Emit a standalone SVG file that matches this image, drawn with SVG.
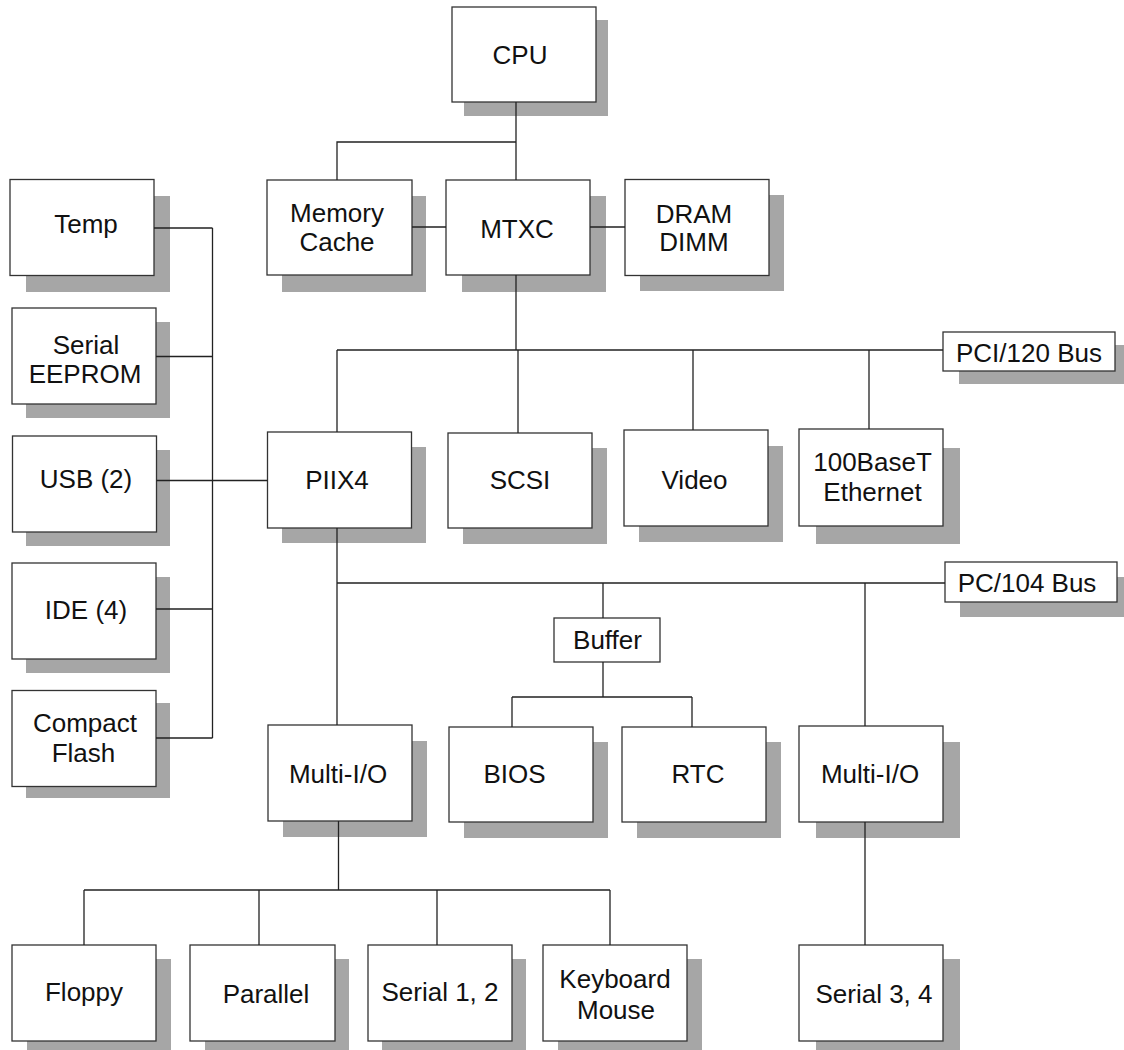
<svg xmlns="http://www.w3.org/2000/svg" width="1124" height="1050" viewBox="0 0 1124 1050">
<style>
.sh{fill:#a6a6a6;stroke:none}
.box{fill:#fff;stroke:#333;stroke-width:1.3}
.t{font-family:"Liberation Sans",Arial,sans-serif;font-size:26px;fill:#111;text-anchor:middle}
.w{fill:none;stroke:#222;stroke-width:1.3}
</style>
<rect width="1124" height="1050" fill="#fff"/>
<g id="nodes">
<g id="cpu"><rect class="sh" x="464" y="20" width="144" height="96"/><rect class="box" x="452" y="7" width="144" height="95"/><text class="t" x="520" y="64">CPU</text></g>
<g id="memcache"><rect class="sh" x="282" y="196" width="144" height="96"/><rect class="box" x="267" y="180" width="145" height="95"/><text class="t" x="337" y="222">Memory</text><text class="t" x="337" y="251">Cache</text></g>
<g id="mtxc"><rect class="sh" x="462" y="196" width="144" height="96"/><rect class="box" x="446" y="180" width="144" height="95"/><text class="t" x="517" y="238">MTXC</text></g>
<g id="dram"><rect class="sh" x="640" y="195" width="144" height="96"/><rect class="box" x="625" y="179.5" width="144" height="96"/><text class="t" x="694" y="222.5">DRAM</text><text class="t" x="694" y="251">DIMM</text></g>
<g id="temp"><rect class="sh" x="26" y="196" width="144" height="96"/><rect class="box" x="10" y="179.5" width="144" height="96"/><text class="t" x="86" y="232.5">Temp</text></g>
<g id="eeprom"><rect class="sh" x="26" y="322" width="144" height="96"/><rect class="box" x="12" y="308" width="144" height="96"/><text class="t" x="86" y="354">Serial</text><text class="t" x="85" y="383">EEPROM</text></g>
<g id="usb"><rect class="sh" x="26" y="450" width="144" height="96"/><rect class="box" x="12.5" y="436" width="144" height="96"/><text class="t" x="86" y="488">USB (2)</text></g>
<g id="ide"><rect class="sh" x="26" y="577" width="144" height="96"/><rect class="box" x="12" y="563" width="144" height="96"/><text class="t" x="86" y="619">IDE (4)</text></g>
<g id="cf"><rect class="sh" x="26" y="703" width="144" height="95"/><rect class="box" x="12" y="690.5" width="144" height="96"/><text class="t" x="85" y="731.5">Compact</text><text class="t" x="83.5" y="761.5">Flash</text></g>
<g id="piix4"><rect class="sh" x="282" y="447" width="144" height="96"/><rect class="box" x="267.5" y="432" width="144" height="96"/><text class="t" x="337" y="489">PIIX4</text></g>
<g id="scsi"><rect class="sh" x="463" y="448" width="144" height="96"/><rect class="box" x="448" y="433" width="144" height="95"/><text class="t" x="520" y="489">SCSI</text></g>
<g id="video"><rect class="sh" x="639" y="446" width="144" height="96"/><rect class="box" x="624" y="430" width="144" height="96"/><text class="t" x="694.5" y="489">Video</text></g>
<g id="ethernet"><rect class="sh" x="816" y="448" width="144" height="96"/><rect class="box" x="799" y="429" width="144" height="97"/><text class="t" x="872.5" y="470.5">100BaseT</text><text class="t" x="872.5" y="501">Ethernet</text></g>
<g id="pcibus"><rect class="sh" x="959" y="345" width="172" height="39"/><rect class="box" x="943" y="332" width="172" height="39"/><text class="t" x="1029" y="362">PCI/120 Bus</text></g>
<g id="pc104bus"><rect class="sh" x="960" y="577" width="172" height="40"/><rect class="box" x="945" y="562" width="172" height="40"/><text class="t" x="1027" y="591.5">PC/104 Bus</text></g>
<g id="buffer"><rect class="box" x="554" y="618" width="106" height="44"/><text class="t" x="607.5" y="649">Buffer</text></g>
<g id="multiio1"><rect class="sh" x="283" y="741" width="144" height="96"/><rect class="box" x="268" y="725" width="144" height="96"/><text class="t" x="338" y="783">Multi-I/O</text></g>
<g id="bios"><rect class="sh" x="464" y="742" width="144" height="96"/><rect class="box" x="449" y="727" width="144" height="95"/><text class="t" x="514.5" y="783">BIOS</text></g>
<g id="rtc"><rect class="sh" x="637" y="742" width="144" height="96"/><rect class="box" x="622" y="727" width="144" height="95"/><text class="t" x="698" y="783">RTC</text></g>
<g id="multiio2"><rect class="sh" x="816" y="742" width="144" height="96"/><rect class="box" x="799" y="726" width="144" height="96"/><text class="t" x="870" y="783">Multi-I/O</text></g>
<g id="floppy"><rect class="sh" x="27" y="959" width="144" height="96"/><rect class="box" x="12" y="945" width="144" height="96"/><text class="t" x="84" y="1001">Floppy</text></g>
<g id="parallel"><rect class="sh" x="205" y="959" width="144" height="96"/><rect class="box" x="190" y="945" width="145" height="96"/><text class="t" x="266" y="1002.5">Parallel</text></g>
<g id="serial12"><rect class="sh" x="382" y="959" width="144" height="96"/><rect class="box" x="368" y="945" width="144" height="96"/><text class="t" x="440" y="1001">Serial 1, 2</text></g>
<g id="keyboard"><rect class="sh" x="558" y="959" width="144" height="96"/><rect class="box" x="543" y="945" width="144" height="96"/><text class="t" x="615" y="988">Keyboard</text><text class="t" x="616" y="1018.5">Mouse</text></g>
<g id="serial34"><rect class="sh" x="816" y="959" width="144" height="96"/><rect class="box" x="799" y="945" width="144" height="96"/><text class="t" x="874" y="1002.5">Serial 3, 4</text></g>
</g>
<g id="connectors" class="w">
<path class="w" d="M516,102 V180 M516,142 H337 V180 M412,227 H446 M590,227 H625 M516,275 V350"/>
<path class="w" d="M337,350 H943 M337,350 V432 M518,350 V433 M693,350 V430 M869,350 V429"/>
<path class="w" d="M212.5,228 V738 M154,228 H212.5 M156,356.5 H212.5 M156.5,480.5 H267.5 M156,609 H212.5 M156,738 H212.5"/>
<path class="w" d="M337,528 V725 M337,583 H945 M603,583 V618 M603,662 V697 M512,697 H692 M512,697 V727 M692,697 V727"/>
<path class="w" d="M865,583 V726 M865,822 V945"/>
<path class="w" d="M338.5,821 V890 M84,890 H610 M84,890 V945 M259,890 V945 M437,890 V945 M610,890 V945"/>
</g>
</svg>
